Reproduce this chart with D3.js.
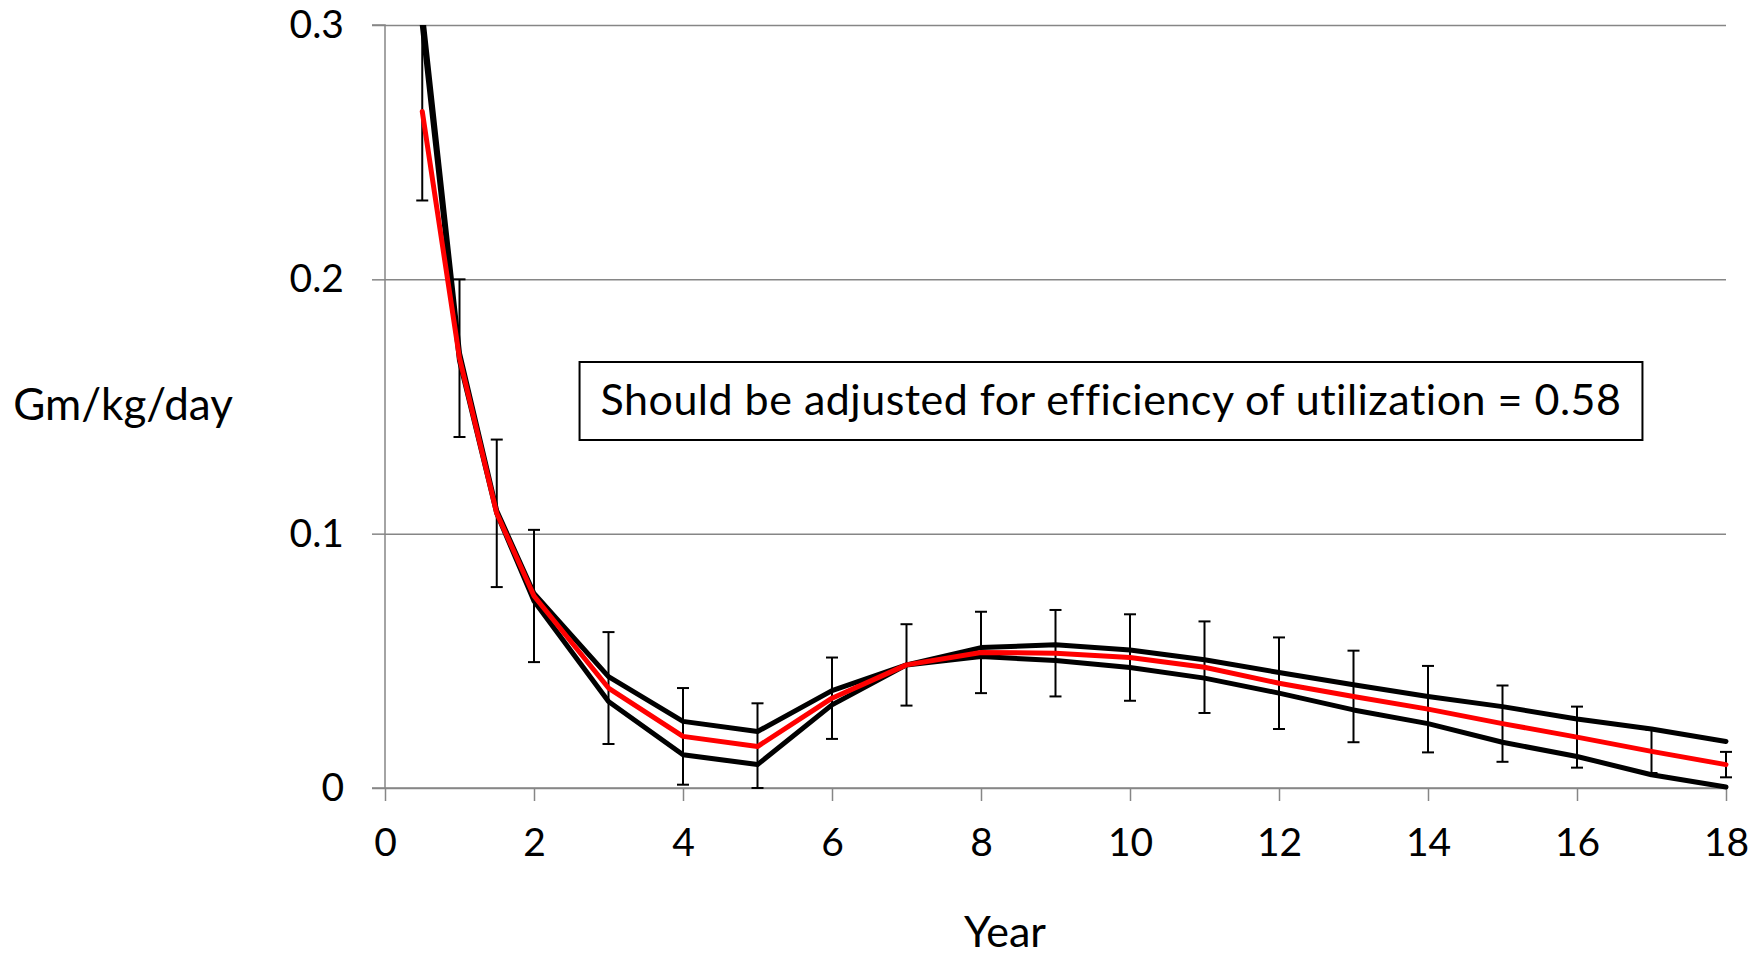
<!DOCTYPE html>
<html>
<head>
<meta charset="utf-8">
<script src="https://cdn.jsdelivr.net/npm/d3@7"></script>
<style>
    html, body { margin: 0; padding: 0; background: #fff; }
    svg text { font-family: Lato, "Open Sans", sans-serif; fill: #000; }
</style>
</head>
<body>
<div id="chart"></div>
<script>
// years sampled
const years = [0.5, 1, 1.5, 2, 3, 4, 5, 6, 7, 8, 9, 10, 11, 12, 13, 14, 15, 16, 17, 18];
// red line (mean)
const meanValues = [0.266, 0.169, 0.108, 0.0755, 0.0393, 0.0203, 0.0163, 0.0353, 0.0484, 0.0533,
    0.053, 0.0513, 0.0475, 0.0412, 0.036, 0.031, 0.0253, 0.020, 0.0144, 0.0092];
// black lines
const upperValues = [0.305, 0.171, 0.109, 0.0765, 0.0438, 0.0262, 0.0222, 0.0383, 0.0484, 0.0552,
    0.0563, 0.0543, 0.0504, 0.0454, 0.0406, 0.036, 0.032, 0.0271, 0.0232, 0.0183];
const lowerValues = [0.300, 0.168, 0.108, 0.0735, 0.034, 0.0131, 0.0092, 0.0327, 0.0484, 0.0517,
    0.0501, 0.0474, 0.0432, 0.0373, 0.0307, 0.0253, 0.018, 0.0124, 0.0052, 0.0004];
// error bar half-widths
const errValues = [0.035, 0.031, 0.029, 0.026, 0.022, 0.019, 0.017, 0.016, 0.016, 0.016,
    0.017, 0.017, 0.018, 0.018, 0.018, 0.017, 0.015, 0.012, 0.0085, 0.005];
const xTicks = [0, 2, 4, 6, 8, 10, 12, 14, 16, 18];
const yTicks = [0, 0.1, 0.2, 0.3];
const yTickLabels = ["0", "0.1", "0.2", "0.3"];
const noteText = "Should be adjusted for efficiency of utilization = 0.58";

const margin = { top: 25, right: 34, bottom: 170, left: 385 };
const size = { width: 1760, height: 958 };
const width = size.width - margin.left - margin.right;
const height = size.height - margin.top - margin.bottom;
const gridColor = "#868686";

const svg = d3.select("#chart")
    .append("svg")
    .attr("width", size.width)
    .attr("height", size.height)
    .append("g")
    .attr("transform", `translate(${margin.left}, ${margin.top})`);

const xScale = d3.scaleLinear().domain([0, 18]).range([0, width]);
const yScale = d3.scaleLinear().domain([0, 0.3]).range([height, 0]);

// gridlines
svg.append("g")
    .attr("class", "grid")
    .call(d3.axisLeft(yScale).tickValues(yTicks).tickSize(-width).tickFormat(""))
    .call(g => g.select(".domain").remove())
    .call(g => g.selectAll("line").attr("stroke", gridColor).attr("stroke-width", 1.5));

// axes
svg.append("g")
    .attr("class", "y-axis")
    .call(d3.axisLeft(yScale).tickValues(yTicks).tickSize(13).tickPadding(28)
        .tickFormat((d, i) => yTickLabels[i]))
    .call(g => g.select(".domain").attr("stroke", gridColor).attr("stroke-width", 1.5).attr("d", `M-13,0H0V${height}H-13`))
    .call(g => g.selectAll("line").attr("stroke", gridColor).attr("stroke-width", 1.5))
    .call(g => g.selectAll("text").style("font-size", "39px"));

svg.append("g")
    .attr("class", "x-axis")
    .attr("transform", `translate(0, ${height})`)
    .call(d3.axisBottom(xScale).tickValues(xTicks).tickSize(13).tickPadding(27))
    .call(g => g.select(".domain").attr("stroke", gridColor).attr("stroke-width", 1.5).attr("d", `M0,0H${width}`))
    .call(g => g.selectAll("line").attr("stroke", gridColor).attr("stroke-width", 1.5))
    .call(g => g.selectAll("text").style("font-size", "39px"));

svg.append("text")
    .attr("x", -262)
    .attr("y", 395)
    .style("text-anchor", "middle")
    .style("font-size", "44px")
    .text("Gm/kg/day");

svg.append("text")
    .attr("x", 620)
    .attr("y", 922)
    .style("text-anchor", "middle")
    .style("font-size", "43px")
    .text("Year");

// clip at top of plot
svg.append("clipPath")
    .attr("id", "plot-clip")
    .append("rect")
    .attr("x", -10)
    .attr("y", 0)
    .attr("width", width + 20)
    .attr("height", height + 20);

const plot = svg.append("g").attr("clip-path", "url(#plot-clip)");

const points = years.map((yr, i) => ({
    year: yr, mean: meanValues[i], upper: upperValues[i], lower: lowerValues[i], err: errValues[i]
}));

// error bars
const bars = plot.selectAll(".err")
    .data(points)
    .join("g")
    .attr("class", "err")
    .attr("stroke", "#000")
    .attr("stroke-width", 2);
bars.append("line")
    .attr("x1", d => xScale(d.year)).attr("x2", d => xScale(d.year))
    .attr("y1", d => yScale(d.mean + d.err)).attr("y2", d => yScale(Math.max(0, d.mean - d.err)));
bars.append("line")
    .attr("x1", d => xScale(d.year) - 6).attr("x2", d => xScale(d.year) + 6)
    .attr("y1", d => yScale(d.mean + d.err)).attr("y2", d => yScale(d.mean + d.err));
bars.append("line")
    .attr("x1", d => xScale(d.year) - 6).attr("x2", d => xScale(d.year) + 6)
    .attr("y1", d => yScale(Math.max(0, d.mean - d.err))).attr("y2", d => yScale(Math.max(0, d.mean - d.err)));

const lineFor = key => d3.line().x(d => xScale(d.year)).y(d => yScale(d[key]));

[["upper", "#000"], ["lower", "#000"], ["mean", "#ff0000"]].forEach(([key, color]) => {
    plot.append("path")
        .datum(points)
        .attr("fill", "none")
        .attr("stroke", color)
        .attr("stroke-width", 5)
        .attr("stroke-linejoin", "round")
        .attr("stroke-linecap", "round")
        .attr("d", lineFor(key));
});

// note box
const note = svg.append("g").attr("class", "note");
const noteLabel = note.append("text")
    .attr("x", 1111 - margin.left)
    .attr("y", 415 - margin.top)
    .style("text-anchor", "middle")
    .style("font-size", "43px")
    .style("letter-spacing", "0.5px")
    .text(noteText);
const bb = noteLabel.node().getBBox();
note.insert("rect", "text")
    .attr("x", bb.x - 21)
    .attr("y", 362 - margin.top)
    .attr("width", bb.width + 42)
    .attr("height", 78)
    .attr("fill", "#fff")
    .attr("stroke", "#000")
    .attr("stroke-width", 2);
</script>
</body>
</html>
